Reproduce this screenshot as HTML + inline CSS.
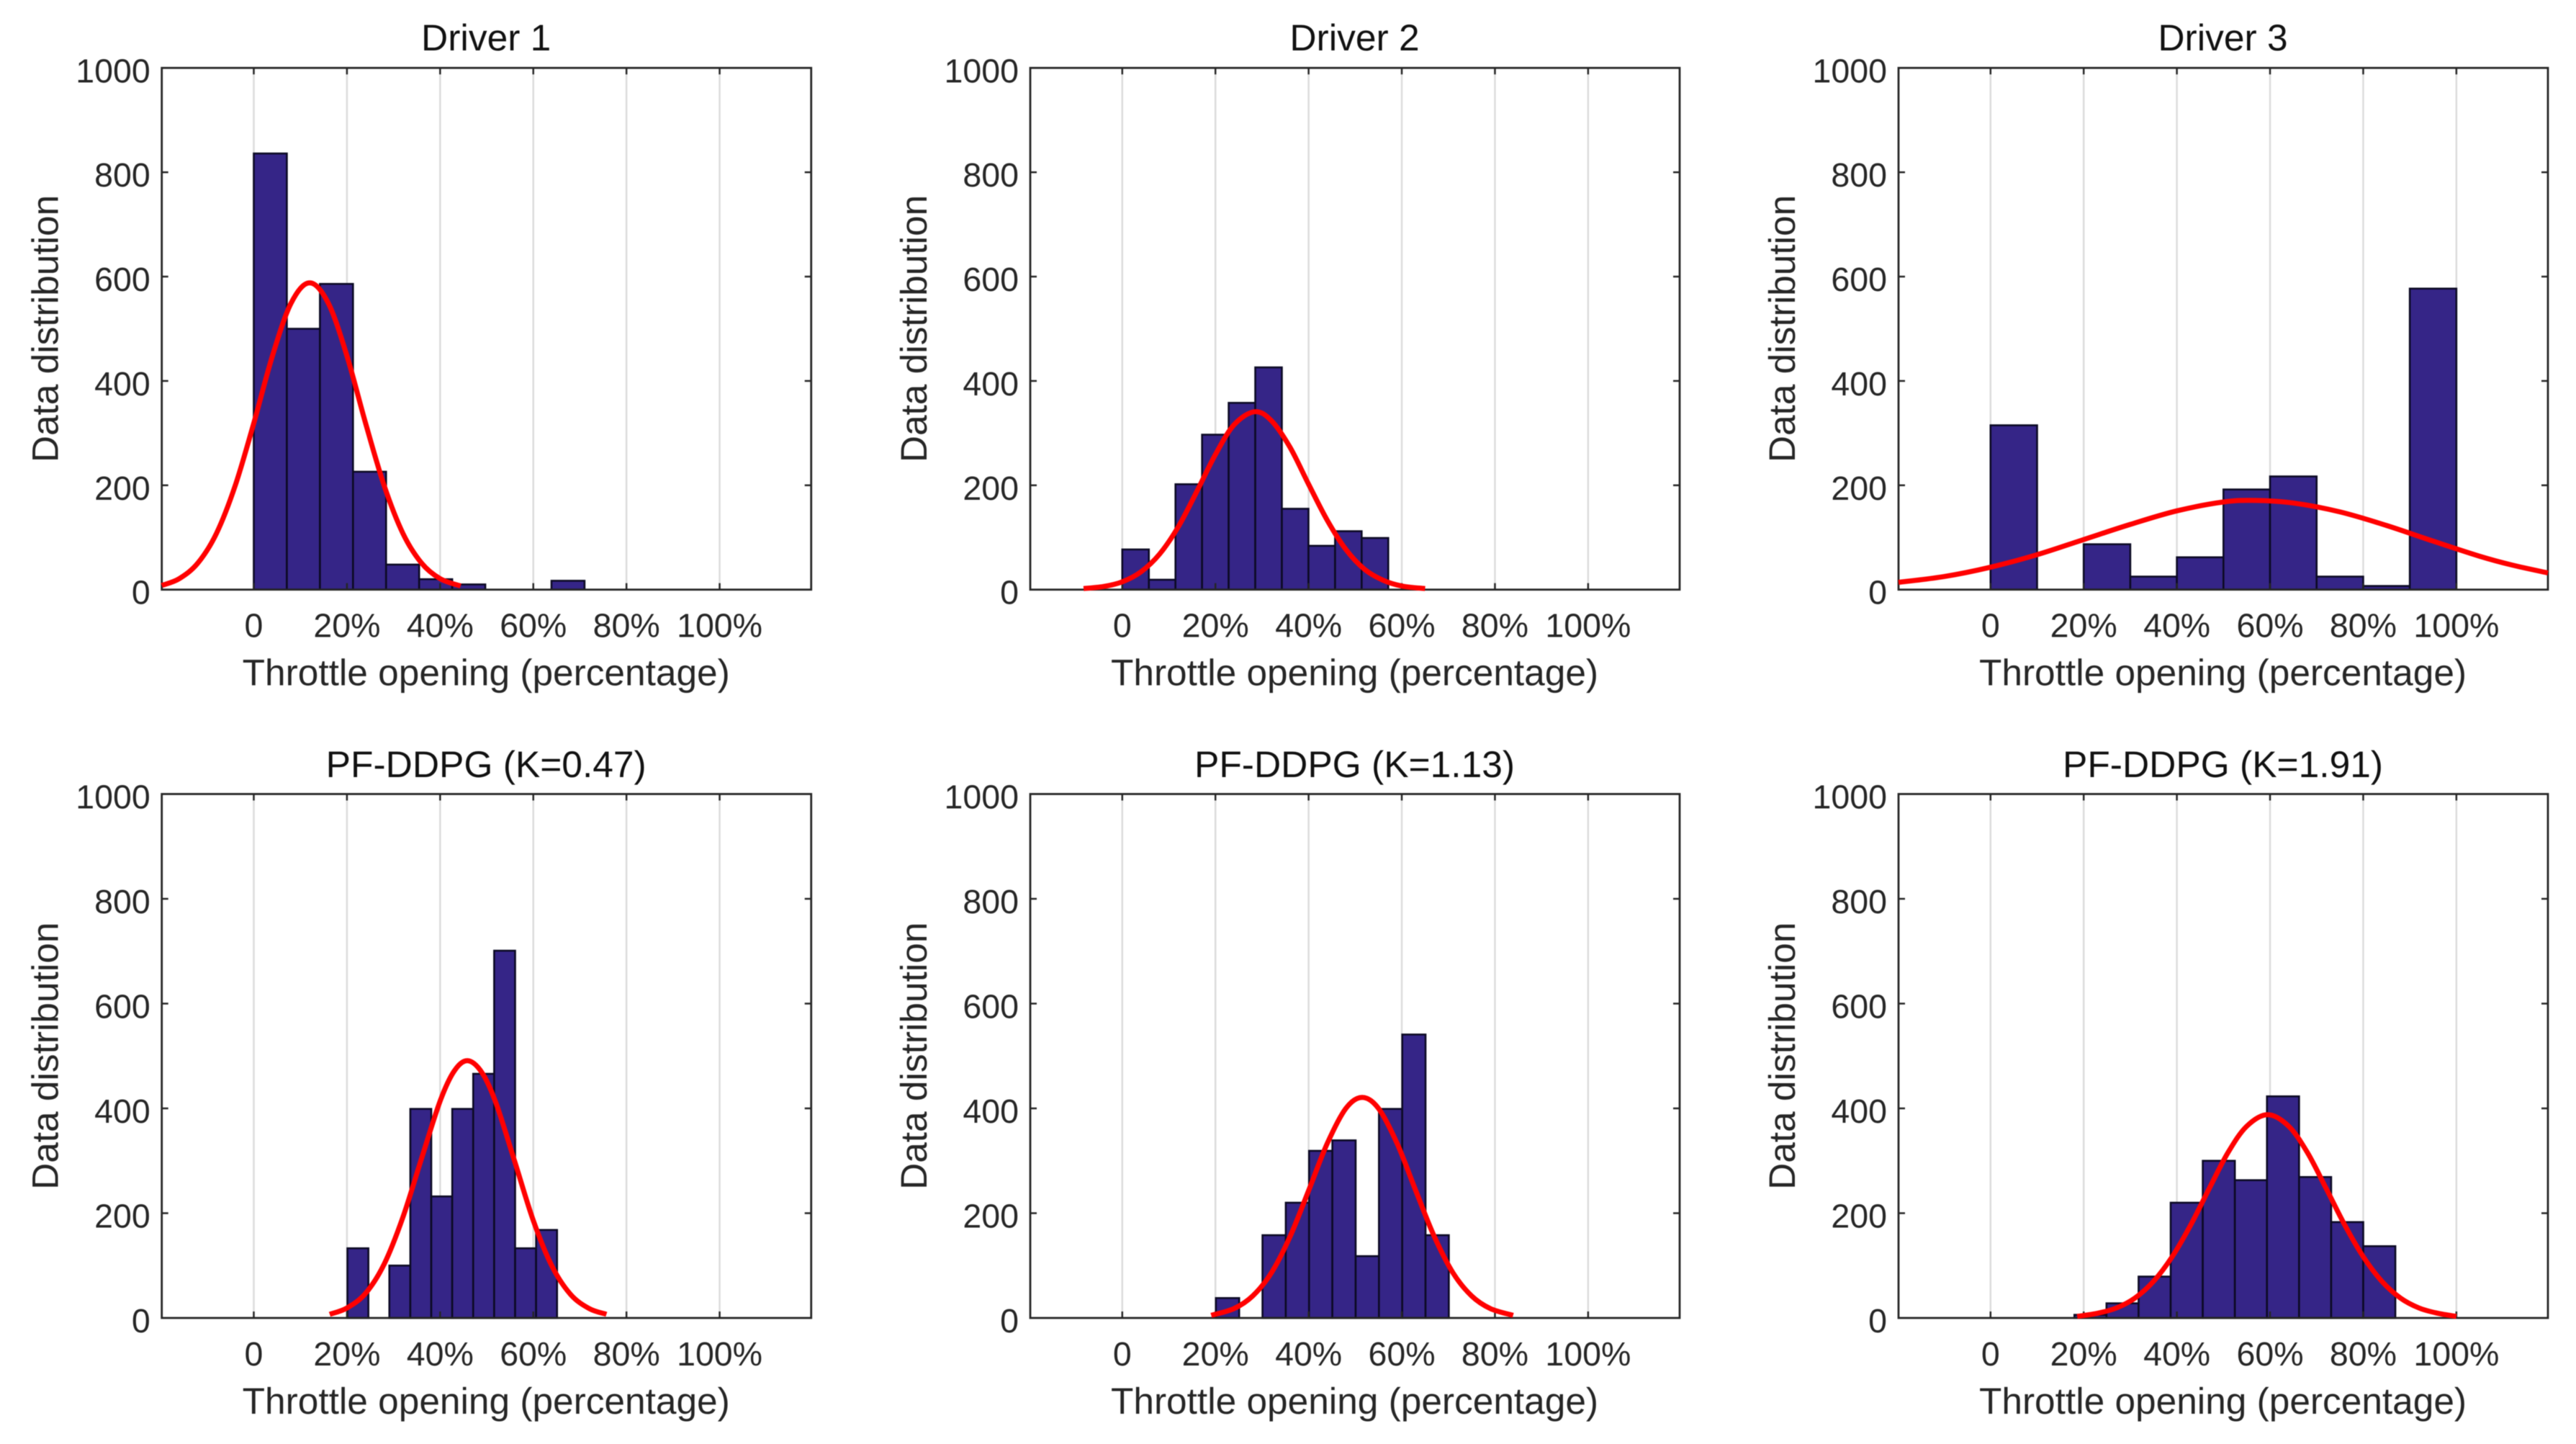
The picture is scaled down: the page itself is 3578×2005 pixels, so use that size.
<!DOCTYPE html>
<html lang="en">
<head>
<meta charset="utf-8">
<title>Throttle opening distributions</title>
<style>
html,body{margin:0;padding:0;background:#fff;}
svg{display:block;filter:blur(0.6px);}
text{font-family:"Liberation Sans",Arial,sans-serif;text-rendering:geometricPrecision;}
</style>
</head>
<body>
<svg id="chart" xmlns="http://www.w3.org/2000/svg" width="3578" height="2005" viewBox="0 0 3578 2005"></svg>
<script>
const xTickValues = [0, 20, 40, 60, 80, 100];
const xTickLabels = ['0', '20%', '40%', '60%', '80%', '100%'];
const yTickValues = [0, 200, 400, 600, 800, 1000];
const yTickLabels = ['0', '200', '400', '600', '800', '1000'];
const xDomain = [-19.75, 119.65];
const yDomain = [0, 1000];

const driver1Bins = [0, 7.1];
const driver1Counts = [836, 500, 586, 226, 48, 20, 10, 0, 0, 17];
const driver1CurveX = [-19.75, -16, -12, -8, -4, 0, 4, 8, 12, 16, 20, 24, 28, 32, 36, 40, 44.4];
const driver1CurveY = [8, 21, 51, 108, 199, 319, 448, 549, 588, 549, 448, 319, 199, 108, 51, 21, 7];

const driver2Bins = [0, 5.71];
const driver2Counts = [77, 19, 202, 297, 358, 426, 155, 84, 112, 99];
const driver2CurveX = [-8.3, -4, 0, 4, 8, 12, 16, 20, 24, 28.4, 32, 36, 40, 44, 48, 52, 56, 60, 65];
const driver2CurveY = [2, 6, 15, 34, 68, 120, 188, 259, 316, 341, 324, 273, 202, 133, 77, 39, 18, 7, 2];

const driver3Bins = [0, 10];
const driver3Counts = [315, 0, 87, 25, 62, 192, 217, 25, 7, 577];
const driver3CurveX = [-19.75, -10, 0, 10, 20, 30, 40, 50, 57, 65, 75, 85, 95, 105, 112, 119.65];
const driver3CurveY = [14, 25, 43, 67, 96, 125, 151, 168, 171, 166, 149, 123, 93, 64, 47, 32];

const k047Bins = [20.1, 4.5];
const k047Counts = [133, 0, 100, 399, 232, 399, 466, 701, 133, 168];
const k047CurveX = [16.3, 20, 24, 28, 32, 36, 40, 43, 45.9, 49, 52, 56, 60, 64, 68, 72, 75.7];
const k047CurveY = [7, 19, 47, 103, 192, 304, 414, 471, 491, 468, 410, 299, 186, 99, 45, 18, 7];

const k113Bins = [20.1, 5];
const k113Counts = [38, 0, 158, 220, 319, 339, 118, 399, 541, 158];
const k113CurveX = [19.1, 24, 28, 32, 36, 40, 44, 48, 51.5, 55, 59, 63, 67, 71, 75, 79, 83.9];
const k113CurveY = [5, 18, 42, 86, 155, 243, 333, 400, 421, 400, 333, 243, 155, 86, 42, 18, 5];

const k191Bins = [18, 6.89];
const k191Counts = [6, 28, 79, 220, 300, 263, 423, 269, 183, 137];
const k191CurveX = [18.6, 23, 27, 31, 35, 39, 43, 47, 51, 55, 59.5, 64, 68, 72, 76, 80, 84, 88, 92, 96, 100];
const k191CurveY = [3, 9, 19, 38, 70, 117, 178, 248, 316, 366, 388, 366, 316, 248, 178, 117, 70, 38, 19, 9, 3];

const panelTitles = ['Driver 1', 'Driver 2', 'Driver 3', 'PF-DDPG (K=0.47)', 'PF-DDPG (K=1.13)', 'PF-DDPG (K=1.91)'];
const panelKeys = ['driver-1', 'driver-2', 'driver-3', 'pf-ddpg-k047', 'pf-ddpg-k113', 'pf-ddpg-k191'];
const panelBins = [driver1Bins, driver2Bins, driver3Bins, k047Bins, k113Bins, k191Bins];
const panelCounts = [driver1Counts, driver2Counts, driver3Counts, k047Counts, k113Counts, k191Counts];
const panelCurveX = [driver1CurveX, driver2CurveX, driver3CurveX, k047CurveX, k113CurveX, k191CurveX];
const panelCurveY = [driver1CurveY, driver2CurveY, driver3CurveY, k047CurveY, k113CurveY, k191CurveY];

const svg = document.getElementById('chart');
const NS = 'http://www.w3.org/2000/svg';
const colLeft = [224.7, 1431, 2637];
const rowTop = [94.3, 1102.5];
const rowBottom = [818.7, 1830];
const plotWidth = 902;

function mk(parent, tag, attrs, txt) {
  const e = document.createElementNS(NS, tag);
  for (const k in attrs) e.setAttribute(k, attrs[k]);
  if (txt !== undefined) e.textContent = txt;
  parent.appendChild(e);
  return e;
}

function smoothPath(pts) {
  let d = 'M' + pts[0][0].toFixed(2) + ' ' + pts[0][1].toFixed(2);
  for (let i = 0; i < pts.length - 1; i++) {
    const p0 = pts[Math.max(i - 1, 0)], p1 = pts[i], p2 = pts[i + 1], p3 = pts[Math.min(i + 2, pts.length - 1)];
    const c1x = p1[0] + (p2[0] - p0[0]) / 6, c1y = p1[1] + (p2[1] - p0[1]) / 6;
    const c2x = p2[0] - (p3[0] - p1[0]) / 6, c2y = p2[1] - (p3[1] - p1[1]) / 6;
    d += 'C' + c1x.toFixed(2) + ' ' + c1y.toFixed(2) + ' ' + c2x.toFixed(2) + ' ' + c2y.toFixed(2) + ' ' + p2[0].toFixed(2) + ' ' + p2[1].toFixed(2);
  }
  return d;
}

function drawPanel(idx) {
  const col = idx % 3, row = Math.floor(idx / 3);
  const left = colLeft[col], right = left + plotWidth, top = rowTop[row], bottom = rowBottom[row];
  const xs = v => left + (v - xDomain[0]) / (xDomain[1] - xDomain[0]) * plotWidth;
  const ys = v => bottom - (v - yDomain[0]) / (yDomain[1] - yDomain[0]) * (bottom - top);
  const cx = (left + right) / 2;

  const g = mk(svg, 'g', {});
  
  

  xTickValues.forEach(v => {
    const line = mk(g, 'line', {x1: xs(v), x2: xs(v), y1: top, y2: bottom, stroke: '#dcdcdc', 'stroke-width': 2.5});
    
    
  });

  const bins = panelBins[idx];
  panelCounts[idx].forEach((c, i) => {
    const x0 = xs(bins[0] + i * bins[1]), x1 = xs(bins[0] + (i + 1) * bins[1]);
    const rect = mk(g, 'rect', {x: x0, y: ys(c), width: x1 - x0, height: bottom - ys(c), fill: '#352587', stroke: '#0c0a24', 'stroke-width': 2.6});
    
    
  });

  const frame = mk(g, 'rect', {x: left, y: top, width: plotWidth, height: bottom - top, fill: 'none', stroke: '#262626', 'stroke-width': 2.8});
  
  

  xTickValues.forEach((v, i) => {
    const tb = mk(g, 'line', {x1: xs(v), x2: xs(v), y1: bottom, y2: bottom - 9, stroke: '#262626', 'stroke-width': 2.5});
    
    
    const tt = mk(g, 'line', {x1: xs(v), x2: xs(v), y1: top, y2: top + 9, stroke: '#262626', 'stroke-width': 2.5});
    
    
    const lab = mk(g, 'text', {x: xs(v), y: bottom + 66, 'font-size': 46.5, fill: '#262626', 'text-anchor': 'middle'}, xTickLabels[i]);
    
    
  });

  yTickValues.forEach((v, i) => {
    if (v !== yDomain[0] && v !== yDomain[1]) {
      const tl = mk(g, 'line', {x1: left, x2: left + 9, y1: ys(v), y2: ys(v), stroke: '#262626', 'stroke-width': 2.5});
      
      
      const tr = mk(g, 'line', {x1: right, x2: right - 9, y1: ys(v), y2: ys(v), stroke: '#262626', 'stroke-width': 2.5});
      
      
    }
    const lab = mk(g, 'text', {x: left - 16, y: ys(v) + 20, 'font-size': 46.5, fill: '#262626', 'text-anchor': 'end'}, yTickLabels[i]);
    
    
  });

  const pts = panelCurveX[idx].map((x, i) => [xs(x), ys(panelCurveY[idx][i])]);
  const curve = mk(g, 'path', {d: smoothPath(pts), fill: 'none', stroke: '#ff0000', 'stroke-width': 7, 'stroke-linejoin': 'round'});
  
  

  const title = mk(g, 'text', {x: cx - 0.5, y: row === 0 ? 70 : 1079, 'font-size': 51.5, fill: '#111', 'text-anchor': 'middle'}, panelTitles[idx]);
  
  

  const xl = mk(g, 'text', {x: cx - 0.5, y: bottom + 133, 'font-size': 51.4, fill: '#262626', 'text-anchor': 'middle'}, 'Throttle opening (percentage)');
  
  

  const yy = (top + bottom) / 2;
  const yl = mk(g, 'text', {x: 0, y: 0, 'font-size': 51.4, fill: '#262626', 'text-anchor': 'middle', transform: 'translate(' + (left - 144) + ' ' + yy + ') rotate(-90)'}, 'Data distribution');
  
  
}

panelTitles.forEach((t, i) => drawPanel(i));
</script>
</body>
</html>
